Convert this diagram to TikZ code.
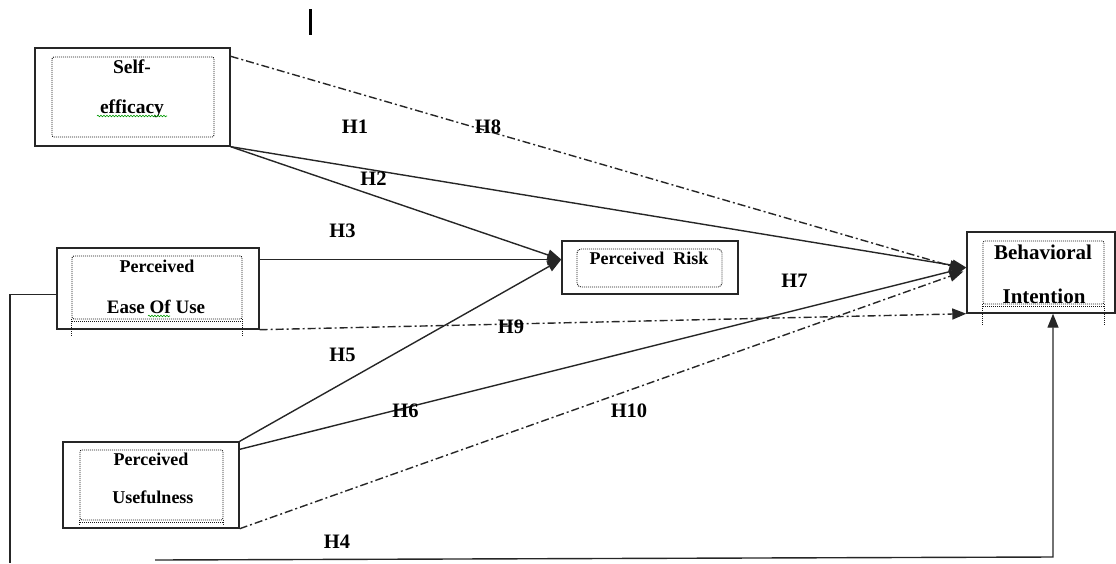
\documentclass[tikz,border=0pt]{standalone}
\usepackage{fontspec}
\setmainfont{Liberation Serif}
\usetikzlibrary{arrows.meta,decorations.pathmorphing}
\begin{document}
\begin{tikzpicture}[x=1pt,y=-1pt,
  outerbox/.style={draw=black!85, line width=1.4pt, inner sep=0pt},
  innerbox/.style={draw=black!90, line width=0.9pt, dash pattern=on 1pt off 1pt, inner sep=0pt, rounded corners=2pt},
  dotline/.style={draw=black!90, line width=0.9pt, dash pattern=on 1pt off 1pt},
  hlabel/.style={font=\fontsize{20.5}{22}\selectfont\bfseries, anchor=base, inner sep=0pt},
  btext/.style={font=\fontsize{18}{20}\selectfont\bfseries, anchor=base, inner sep=0pt},
  bitext/.style={font=\fontsize{21}{23}\selectfont\bfseries, anchor=base, inner sep=0pt},
  conn/.style={line width=1.4pt, draw=black!85},
  arr/.style={conn, -{Triangle[length=14pt,width=11pt]}},
  dd/.style={conn, dash pattern=on 8pt off 3pt on 2pt off 3pt},
  spell/.style={draw=green!60!black, line width=0.6pt, decorate, decoration={snake, segment length=3pt, amplitude=0.8pt}}
]
\useasboundingbox (0,0) rectangle (1116,563);

% top bar
\draw[line width=3pt] (310,9) -- (310,35);

% Self-efficacy
\node[outerbox, minimum width=195pt, minimum height=98pt] (se) at (132.5,97) {};
\node[innerbox, minimum width=162pt, minimum height=80pt] (sei) at (133,97) {};
\node[btext, font=\fontsize{19.5}{21}\selectfont\bfseries] (set1) at (132,73) {Self-};
\node[btext, font=\fontsize{19.5}{21}\selectfont\bfseries] (set2) at (132,113) {efficacy};
\draw[spell] (97,116) -- (167,116);

% Perceived Ease Of Use
\node[outerbox, minimum width=202pt, minimum height=81pt] (peou) at (158,288.5) {};
\node[innerbox, minimum width=170pt, minimum height=63pt] (peoui) at (157,287.5) {};
\draw[dotline] (72,321.5) -- (242,321.5);
\draw[dotline] (peoui.south west) -- ++(0,18);
\draw[dotline] (peoui.south east) -- ++(0,18);
\node[btext] (peout1) at (157,272) {Perceived};
\node[btext, font=\fontsize{19}{21}\selectfont\bfseries] (peout2) at (156,313) {Ease Of Use};
\draw[spell] (148,316) -- (170,316);

% Perceived Usefulness
\node[outerbox, minimum width=176pt, minimum height=86pt] (pu) at (151,485) {};
\node[innerbox, minimum width=143pt, minimum height=70pt] (pui) at (151.5,485) {};
\draw[dotline] (80,522.5) -- (223,522.5);
\draw[dotline] (pui.south west) -- ++(0,5);
\draw[dotline] (pui.south east) -- ++(0,5);
\node[btext] (put1) at (151,465) {Perceived};
\node[btext] (put2) at (153,503) {Usefulness};

% Perceived Risk
\node[outerbox, minimum width=176pt, minimum height=53pt] (pr) at (650,267.5) {};
\node[innerbox, minimum width=145pt, minimum height=38pt, rounded corners=4pt] (pri) at (649.5,268) {};
\node[btext] (prt) at (649,264) {Perceived\ \ Risk};

% Behavioral Intention
\node[outerbox, minimum width=148pt, minimum height=81pt] (bi) at (1041,272.5) {};
\node[innerbox, minimum width=121pt, minimum height=63pt] (bii) at (1043.5,272.5) {};
\draw[dotline] (983,306) -- (1104,306);
\draw[dotline] (bii.south west) -- ++(0,21);
\draw[dotline] (bii.south east) -- ++(0,21);
\node[bitext] (bit1) at (1043,259) {Behavioral};
\node[bitext] (bit2) at (1044,303) {Intention};

% convergence points
\coordinate (bitip) at ([yshift=5pt]bi.west);
\coordinate (prtip) at ([yshift=8pt]pr.west);
\coordinate (h4a) at (10,563);
\coordinate (h4b) at (155,560);
\coordinate (h4c) at ([xshift=12pt]bi.south |- 0,557);

% connectors
\draw[dd, -{Triangle[length=14pt,width=11pt]}] ([yshift=-9pt]se.north east) -- ([xshift=-3pt,yshift=-2pt]bitip);
\draw[arr] (se.south east) -- (bitip);
\draw[arr] (se.south east) -- (prtip);
\draw[arr] (prtip -| peou.east) -- (prtip);
\draw[arr] (pu.north east) -- (prtip);
\draw[arr] ([yshift=-8pt]pu.north east) -- (bitip);
\draw[dd, -{Triangle[length=14pt,width=11pt]}] (pu.south east) -- ([xshift=-3pt,yshift=-4pt]bitip);
\draw[dd, -{Triangle[length=14pt,width=11pt]}] (peou.south east) -- (bi.south west);
\draw[conn] ([yshift=-6pt]peou.west) -| (h4a);
\draw[arr] (h4b) -- (h4c) -- ([xshift=12pt]bi.south);

% labels
\node[hlabel] (h1) at (355,133) {H1};
\node[hlabel] (h8) at (488,133) {H8};
\node[hlabel] (h2) at (373.5,185) {H2};
\node[hlabel] (h3) at (342.5,237) {H3};
\node[hlabel] (h5) at (342.5,361) {H5};
\node[hlabel] (h9) at (511,333) {H9};
\node[hlabel] (h6) at (405.5,417) {H6};
\node[hlabel] (h10) at (629,417) {H10};
\node[hlabel] (h7) at (794.5,287) {H7};
\node[hlabel] (h4) at (337,548) {H4};
\end{tikzpicture}
\end{document}
